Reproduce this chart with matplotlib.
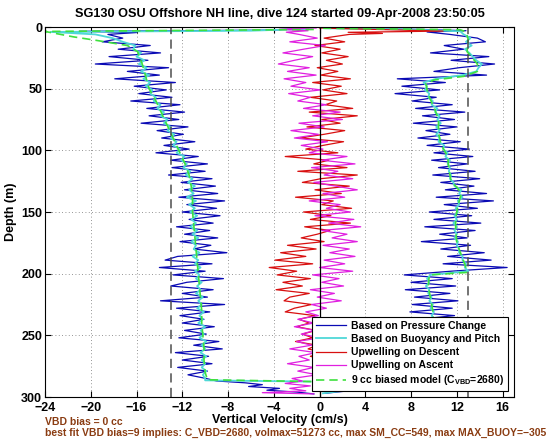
# Seaglider dive 124 vertical velocity profile (SG130, OSU Offshore NH line)

import numpy as np
import matplotlib
matplotlib.use("Agg")
import matplotlib.pyplot as plt

# --------------------------------------------------------------------
# Data
# --------------------------------------------------------------------

# regular sampling depths (m) shared by the noisy profiles: 6, 9, ... 285
GRID_START = 6
GRID_STEP = 3

# descent, based on pressure change (cm/s)
BLUE_DN = [
    -18.5, -17.2, -19.0, -14.8, -17.6, -13.9, -18.4, -15.0, -19.6, -13.2,
    -16.8, -14.0, -17.9, -12.6, -16.2, -13.4, -15.8, -12.9, -16.5, -12.2,
    -15.1, -11.8, -14.9, -12.3, -15.6, -11.5, -14.2, -11.9, -13.8, -10.9,
    -13.6, -11.4, -14.3, -10.6, -13.0, -9.8, -12.9, -10.0, -13.2, -9.4,
    -12.1, -9.1, -11.8, -8.9, -12.3, -8.3, -11.6, -9.0, -12.0, -8.7,
    -11.4, -9.3, -12.5, -9.6, -11.8, -8.9, -12.2, -9.5, -11.0, -8.1,
    -12.4, -13.5, -9.4, -14.0, -10.0, -12.8, -8.4, -11.6, -13.0, -9.3,
    -12.0, -9.8, -13.9, -8.3, -12.5, -9.6, -12.2, -10.1, -12.0, -9.2,
    -11.8, -9.9, -12.3, -8.8, -11.0, -8.5, -12.6, -9.7, -12.0, -9.4,
    -12.4, -9.8, -11.5, -9.9,
]
BLUE_DN_HEAD_Z = [1.0, 2.5, 3.5, 4.5]
BLUE_DN_HEAD = [-1.5, -4.0, -21.0, -16.0]
BLUE_DN_TAIL_Z = [287, 288.5, 290, 291.5, 293, 294.5, 296, 297.5]
BLUE_DN_TAIL = [-9.0, -6.5, -5.0, -6.2, -3.5, -4.6, -2.0, -0.5]

# descent, based on buoyancy and pitch (cm/s)
CYAN_DN = [
    -19.6, -18.1, -17.2, -16.1, -16.3, -15.6, -16.0, -15.3, -15.8, -15.1,
    -15.6, -14.9, -15.4, -14.8, -15.2, -14.6, -14.8, -14.3, -14.5, -13.9,
    -14.2, -13.6, -13.9, -13.3, -13.6, -13.0, -13.3, -12.7, -13.0, -12.5,
    -12.8, -12.2, -12.5, -11.8, -12.1, -11.6, -11.9, -11.3, -11.7, -11.1,
    -11.5, -10.9, -11.4, -11.0, -11.6, -10.8, -11.4, -10.9, -11.3, -10.7,
    -11.2, -10.8, -11.3, -10.7, -11.1, -10.6, -11.2, -10.8, -11.0, -10.5,
    -11.1, -10.6, -10.9, -10.4, -10.9, -10.5, -10.8, -10.3, -10.7, -10.4,
    -10.8, -10.2, -10.6, -10.3, -10.7, -10.1, -10.5, -10.2, -10.6, -10.0,
    -10.4, -10.1, -10.5, -9.9, -10.3, -10.0, -10.4, -9.9, -10.3, -10.0,
    -10.3, -9.9, -10.2, -10.0,
]
CYAN_DN_HEAD_Z = [1.5, 3.0, 4.0]
CYAN_DN_HEAD = [-1.0, -6.0, -23.5]
CYAN_DN_TAIL_Z = [286.5, 287.5]
CYAN_DN_TAIL = [-10.0, -0.8]

# ascent, based on pressure change (cm/s)
BLUE_UP = [
    11.4, 13.8, 14.5, 10.9, 12.6, 9.7, 14.8, 11.5, 15.3, 12.2,
    10.0, 14.6, 6.8, 11.0, 7.2, 10.5, 6.6, 10.2, 8.1, 11.6,
    8.4, 12.7, 9.0, 11.8, 8.2, 12.0, 9.3, 11.4, 8.6, 12.3,
    9.4, 13.1, 10.0, 13.4, 9.8, 12.9, 10.4, 13.6, 9.9, 14.0,
    10.6, 13.5, 11.0, 14.6, 10.2, 15.2, 10.9, 13.8, 9.6, 13.3,
    10.0, 14.1, 9.2, 13.6, 10.5, 12.9, 8.9, 13.2, 10.6, 14.4,
    11.2, 15.0, 10.8, 16.4, 11.5, 7.4, 11.6, 8.0, 11.9, 7.5,
    11.4, 8.3, 12.1, 8.1, 11.6, 7.9, 11.8, 8.6, 12.2, 8.4,
    11.7, 8.2, 12.0, 8.8, 11.5, 8.5, 12.3, 8.0, 11.8, 8.7,
    11.6, 8.4, 11.9, 8.9,
]
BLUE_UP_HEAD_Z = [0.8, 2.0, 3.0, 4.0]
BLUE_UP_HEAD = [1.0, 9.0, 12.8, 9.4]
BLUE_UP_TAIL_Z = [287, 289, 291, 293, 295, 297]
BLUE_UP_TAIL = [11.0, 9.0, 7.5, 5.0, 2.5, 0.5]

# ascent, based on buoyancy and pitch (cm/s)
CYAN_UP = [
    12.6, 13.2, 12.8, 13.3, 12.7, 13.1, 13.4, 13.7, 14.2, 13.9,
    13.7, 12.5, 10.2, 9.1, 9.4, 9.2, 9.6, 9.5, 9.9, 9.8,
    10.3, 10.1, 10.5, 10.3, 10.6, 10.2, 10.5, 10.2, 10.5, 10.4,
    10.9, 10.8, 11.2, 11.0, 11.4, 11.2, 11.4, 11.3, 11.5, 11.4,
    11.7, 11.8, 12.4, 12.2, 12.5, 12.1, 12.2, 11.9, 12.1, 11.8,
    12.0, 11.7, 12.0, 11.8, 12.0, 11.8, 12.1, 12.0, 12.2, 12.2,
    12.5, 12.5, 12.8, 12.7, 13.0, 9.7, 9.4, 9.6, 9.3, 9.6,
    9.5, 9.8, 9.6, 9.9, 9.7, 10.0, 9.8, 10.1, 9.9, 10.0,
    9.9, 10.1, 9.9, 10.2, 10.0, 10.1, 9.9, 10.2, 10.0, 10.1,
    9.9, 10.2, 10.0, 10.1,
]
CYAN_UP_HEAD_Z = [1.0, 2.0, 3.5]
CYAN_UP_HEAD = [0.5, 8.0, 12.3]
CYAN_UP_TAIL_Z = [287, 289, 292, 295, 297]
CYAN_UP_TAIL = [10.0, 9.0, 6.0, 2.0, 0.3]

# upwelling on descent (cm/s)
RED_DN = [
    2.6, 0.4, 2.2, -0.4, 1.8, 0.2, 2.5, 0.6, 2.0, -0.2,
    1.6, 0.1, 2.7, -0.6, 1.9, 0.3, 2.4, -0.8, 1.5, 0.5,
    2.9, -0.9, 3.3, 0.2, 1.8, -1.1, 2.2, 0.4, -1.7, 2.1,
    0.3, -1.2, 1.6, -3.0, 0.8, -0.5, 2.4, -1.9, 3.3, 0.1,
    -1.5, 2.6, -0.4, 1.9, -2.1, 1.2, 0.2, 2.8, -1.4, 1.0,
    -0.8, 2.7, -1.3, 0.9, -0.2, -1.6, 0.4, -2.8, -0.3, -3.4,
    -1.2, -3.9, -0.6, -4.4, -2.0, -3.7, -0.8, -3.2, -1.5, -3.8,
    -0.9, -2.6, -3.1, -0.7, -2.2, -3.0, -0.4, -1.8, -0.9, -2.0,
    -0.3, -1.5, -0.6, -2.1, -0.2, -1.0, 0.3, -0.8, 0.5, -0.4,
    0.6, -0.5, 0.8, 0.2,
]
RED_HEAD_Z = [0.8, 2.2, 3.3, 4.3, 5.2]
RED_HEAD = [0.0, 6.0, 10.8, 2.5, 5.5]
RED_TAIL_Z = [287, 290]
RED_TAIL = [0.3, 0.0]

# upwelling on ascent (cm/s)
MAG_UP = [
    -1.8, -0.2, -2.6, 0.5, -1.4, -3.2, -0.6, -2.2, -3.6, -0.9,
    -2.8, -0.3, -3.1, -1.2, -2.5, 0.1, -2.7, -0.8, -1.9, 0.6,
    -1.4, 1.8, -0.6, 2.0, -1.8, 0.4, -2.5, -0.1, -2.2, 0.7,
    -1.6, 0.3, -0.9, 2.4, 0.2, 3.1, -0.7, 1.6, 0.4, 2.9,
    -0.5, 1.4, 3.3, 0.3, 2.2, -0.9, 1.8, 0.6, 2.7, -0.4,
    3.0, 0.8, 3.6, 0.2, 2.4, 1.1, 3.3, 0.3, 2.6, 0.9,
    3.1, 0.4, 2.2, 0.0, 2.9, -0.6, 1.7, 0.2, 2.1, -0.8,
    1.3, -0.2, 1.9, -0.7, 0.6, -1.2, -0.1, -1.9, -0.5, -2.2,
    -0.4, -1.6, 0.1, -2.0, -0.7, -2.6, -0.3, -1.8, -0.9, -2.8,
    -0.5, -1.9, -0.2, -2.4,
]
MAG_HEAD_Z = [0.8, 1.8, 3.0, 4.2]
MAG_HEAD = [-0.3, -3.5, -1.0, -2.9]
MAG_TAIL_Z = [287, 289, 291, 293, 295, 296.5, 297.5]
MAG_TAIL = [-1.5, -3.0, -0.8, -2.6, -1.2, -5.0, -0.5]

# 9 cc biased model, descent and ascent
MODEL_DN_Z = [2, 3.6, 8, 11, 15, 20, 30, 40, 50, 60, 70, 80, 90, 100, 110,
              120, 130, 140, 150, 160, 170, 180, 190, 200, 210, 220, 230,
              240, 250, 260, 270, 280, 286, 287.5]
MODEL_DN = [-0.5, -24.0, -21.5, -19.4, -16.8, -15.9, -15.5, -15.2, -14.9,
            -14.3, -13.8, -13.3, -12.8, -12.3, -11.8, -11.4, -11.2, -11.1,
            -11.1, -11.0, -10.9, -10.8, -10.7, -10.6, -10.5, -10.4, -10.3,
            -10.3, -10.2, -10.1, -10.1, -10.0, -9.8, -0.5]
MODEL_UP_Z = [1.0, 2.2, 4, 10, 20, 30, 36, 40, 43, 46, 55, 65, 75, 85, 95,
              105, 115, 125, 130, 135, 145, 155, 165, 175, 185, 195, 199,
              201, 210, 220, 230, 245, 260, 275, 287, 290, 294]
MODEL_UP = [0.3, 12.3, 12.8, 13.0, 12.9, 13.8, 13.8, 12.6, 10.0, 9.3, 9.5,
            10.0, 10.4, 10.4, 10.6, 11.2, 11.3, 11.5, 12.0, 12.4, 12.1,
            11.9, 11.9, 12.0, 12.4, 12.8, 12.9, 9.6, 9.5, 9.7, 9.9, 10.0,
            10.0, 10.0, 10.0, 8.0, 0.5]

VEL_LIMITS = 13  # dashed reference lines at +/- this velocity

TITLE = "SG130 OSU Offshore NH line, dive 124 started 09-Apr-2008 23:50:05"
NOTE_1 = "VBD bias = 0 cc"
NOTE_2 = ("best fit VBD bias=9 implies: C_VBD=2680, volmax=51273 cc, "
          "max SM_CC=549, max MAX_BUOY=\u2212305")
LABELS = [
    "Based on Pressure Change",
    "Based on Buoyancy and Pitch",
    "Upwelling on Descent",
    "Upwelling on Ascent",
    r"9 cc biased model (C$_{\mathbf{VBD}}$=2680)",
]

# --------------------------------------------------------------------
# Helpers
# --------------------------------------------------------------------


def profile(head_z, head, values, tail_z, tail):
    """Join the surface part, the regular grid part and the bottom part."""
    grid = GRID_START + GRID_STEP * np.arange(len(values))
    z = np.concatenate([head_z, grid, tail_z])
    w = np.concatenate([head, values, tail])
    return w, z


# --------------------------------------------------------------------
# Plot
# --------------------------------------------------------------------

plt.rcParams["font.family"] = ["Liberation Sans", "DejaVu Sans"]
plt.rcParams["font.weight"] = "bold"
plt.rcParams["mathtext.fontset"] = "custom"
plt.rcParams["mathtext.rm"] = "Liberation Sans:bold"
plt.rcParams["mathtext.bf"] = "Liberation Sans:bold"

fig = plt.figure(figsize=(5.54, 4.42), dpi=100)
ax = fig.add_axes([0.0812, 0.1018, 0.8466, 0.8371])

BLUE = "#0a0ab4"
CYAN = "#4fd8d8"
RED = "#d81010"
MAGENTA = "#e020e0"
GREEN = "#3ee03e"

ax.plot(*profile(BLUE_DN_HEAD_Z, BLUE_DN_HEAD, BLUE_DN, BLUE_DN_TAIL_Z, BLUE_DN_TAIL),
        color=BLUE, lw=0.9, label=LABELS[0])
ax.plot(*profile(BLUE_UP_HEAD_Z, BLUE_UP_HEAD, BLUE_UP, BLUE_UP_TAIL_Z, BLUE_UP_TAIL),
        color=BLUE, lw=0.9)
ax.plot(*profile(CYAN_DN_HEAD_Z, CYAN_DN_HEAD, CYAN_DN, CYAN_DN_TAIL_Z, CYAN_DN_TAIL),
        color=CYAN, lw=1.3, label=LABELS[1])
ax.plot(*profile(CYAN_UP_HEAD_Z, CYAN_UP_HEAD, CYAN_UP, CYAN_UP_TAIL_Z, CYAN_UP_TAIL),
        color=CYAN, lw=1.3)
ax.plot(*profile(RED_HEAD_Z, RED_HEAD, RED_DN, RED_TAIL_Z, RED_TAIL),
        color=RED, lw=0.9, label=LABELS[2])
ax.plot(*profile(MAG_HEAD_Z, MAG_HEAD, MAG_UP, MAG_TAIL_Z, MAG_TAIL),
        color=MAGENTA, lw=0.9, label=LABELS[3])
ax.plot(MODEL_DN, MODEL_DN_Z, color=GREEN, lw=1.2, ls=(0, (5, 3)), label=LABELS[4])
ax.plot(MODEL_UP, MODEL_UP_Z, color=GREEN, lw=1.2, ls=(0, (5, 3)))

ax.axvline(0, color="black", lw=0.9)
for v in (-VEL_LIMITS, VEL_LIMITS):
    ax.axvline(v, color="0.3", lw=1.1, ls=(0, (6, 3.5)))

ax.set_xlim(-24, 17)
ax.set_ylim(300, 0)
ax.set_xticks(np.arange(-24, 17, 4))
ax.set_yticks(np.arange(0, 301, 50))
ax.set_xticklabels([str(t).replace("-", "\u2212") for t in range(-24, 17, 4)])
ax.grid(True, color="0.45", lw=0.6, ls=(0, (1, 3)))
ax.tick_params(direction="in", top=True, right=True, length=4, width=0.8,
               labelsize=9)
ax.tick_params(axis="x", pad=3.5)
ax.tick_params(axis="y", pad=2)
for s in ax.spines.values():
    s.set_linewidth(0.8)

ax.set_title(TITLE, fontsize=9.2, fontweight="bold", pad=7)
ax.set_xlabel("Vertical Velocity (cm/s)", fontsize=9, fontweight="bold", labelpad=0)
ax.set_ylabel("Depth (m)", fontsize=9, fontweight="bold", labelpad=3)

leg = ax.legend(loc="lower right", bbox_to_anchor=(0.987, 0.016), borderaxespad=0,
                handlelength=2.9, labelspacing=0.3, borderpad=0.35,
                handletextpad=0.5, fancybox=False, framealpha=1, edgecolor="black",
                prop={"weight": "bold", "size": 7.5})
leg.get_frame().set_linewidth(0.8)

BROWN = "#8a3c12"
fig.text(45 / 554, 1 - 422 / 442, NOTE_1, color=BROWN, fontsize=7.5,
         fontweight="bold", va="center", ha="left")
fig.text(45 / 554, 1 - 433 / 442, NOTE_2, color=BROWN, fontsize=7.5,
         fontweight="bold", va="center", ha="left")

fig.savefig("out.png", dpi=100)
